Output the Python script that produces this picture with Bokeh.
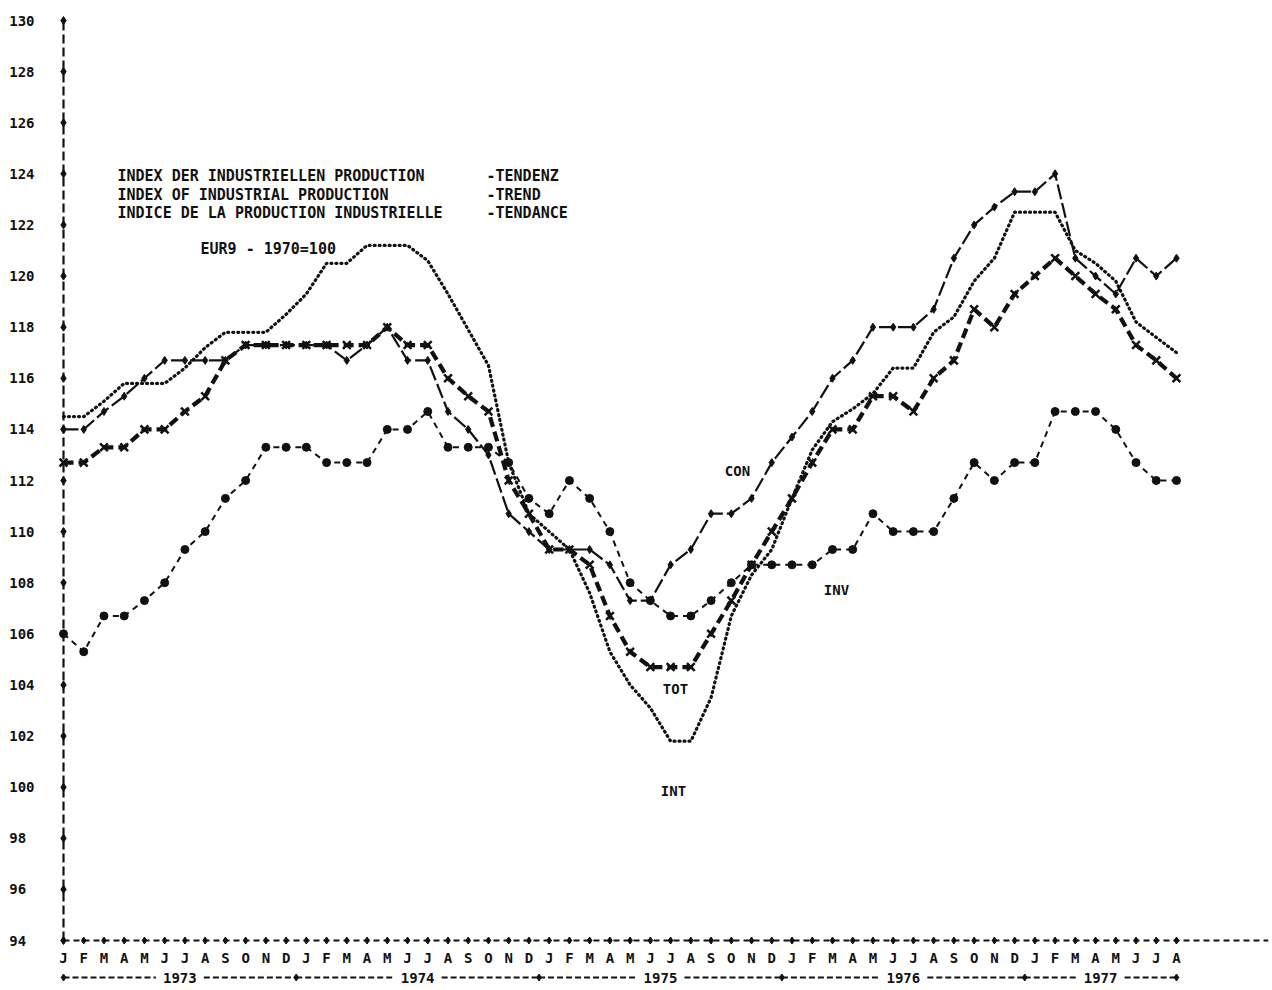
from bokeh.plotting import figure
from bokeh.models import FixedTicker, Range1d
from bokeh.core.properties import value
from bokeh.embed import file_html
from bokeh.resources import INLINE

# ---------------- data ----------------
months = ["J", "F", "M", "A", "M", "J", "J", "A", "S", "O", "N", "D"] * 4 + \
         ["J", "F", "M", "A", "M", "J", "J", "A"]
years = ["1973", "1974", "1975", "1976", "1977"]
y_ticks = list(range(94, 131, 2))

tot = [112.7, 112.7, 113.3, 113.3, 114.0, 114.0, 114.7, 115.3, 116.7, 117.3, 117.3, 117.3,
       117.3, 117.3, 117.3, 117.3, 118.0, 117.3, 117.3, 116.0, 115.3, 114.7, 112.0, 110.7,
       109.3, 109.3, 108.7, 106.7, 105.3, 104.7, 104.7, 104.7, 106.0, 107.3, 108.7, 110.0,
       111.3, 112.7, 114.0, 114.0, 115.3, 115.3, 114.7, 116.0, 116.7, 118.7, 118.0, 119.3,
       120.0, 120.7, 120.0, 119.3, 118.7, 117.3, 116.7, 116.0]

con = [114.0, 114.0, 114.7, 115.3, 116.0, 116.7, 116.7, 116.7, 116.7, 117.3, 117.3, 117.3,
       117.3, 117.3, 116.7, 117.3, 118.0, 116.7, 116.7, 114.7, 114.0, 113.0, 110.7, 110.0,
       109.3, 109.3, 109.3, 108.7, 107.3, 107.3, 108.7, 109.3, 110.7, 110.7, 111.3, 112.7,
       113.7, 114.7, 116.0, 116.7, 118.0, 118.0, 118.0, 118.7, 120.7, 122.0, 122.7, 123.3,
       123.3, 124.0, 120.7, 120.0, 119.3, 120.7, 120.0, 120.7]

int_ = [114.5, 114.5, 115.1, 115.8, 115.8, 115.8, 116.4, 117.2, 117.8, 117.8, 117.8, 118.5,
        119.3, 120.5, 120.5, 121.2, 121.2, 121.2, 120.6, 119.3, 117.9, 116.5, 112.7, 110.7,
        110.0, 109.3, 107.6, 105.3, 104.0, 103.1, 101.8, 101.8, 103.5, 106.7, 108.3, 109.3,
        111.3, 113.2, 114.3, 114.8, 115.4, 116.4, 116.4, 117.8, 118.4, 119.8, 120.7, 122.5,
        122.5, 122.5, 121.0, 120.5, 119.8, 118.2, 117.6, 117.0]

inv = [106.0, 105.3, 106.7, 106.7, 107.3, 108.0, 109.3, 110.0, 111.3, 112.0, 113.3, 113.3,
       113.3, 112.7, 112.7, 112.7, 114.0, 114.0, 114.7, 113.3, 113.3, 113.3, 112.7, 111.3,
       110.7, 112.0, 111.3, 110.0, 108.0, 107.3, 106.7, 106.7, 107.3, 108.0, 108.7, 108.7,
       108.7, 108.7, 109.3, 109.3, 110.7, 110.0, 110.0, 110.0, 111.3, 112.7, 112.0, 112.7,
       112.7, 114.7, 114.7, 114.7, 114.0, 112.7, 112.0, 112.0]

idx = list(range(len(months)))

# ---------------- layout (pixels) ----------------
W, H = 1270, 988
BL, BR, BT, BB = 52, 2, 10, 3
PPU = 920 / 36.0          # px per index unit
PPM = 1113 / 55.0         # px per month
X_ORIGIN, Y_BASE, Y_TOP = 63, 940, 20   # pixel targets for Jan-73, 94 and 130
frame_w = W - BL - BR
frame_h = H - BT - BB
X0 = -(X_ORIGIN - BL) / PPM
X1 = X0 + frame_w / PPM
Y1 = 130 + (Y_TOP - BT) / PPU
Y0 = Y1 - frame_h / PPU


def mx(px):
    return (px - X_ORIGIN) / PPM


def vy(py):
    return 94 + (Y_BASE - py) / PPU


INK = "#111111"
FONT = value("DejaVu Sans Mono")

p = figure(width=W, height=H, output_backend="svg", toolbar_location=None,
           x_range=Range1d(X0, X1), y_range=Range1d(Y0, Y1),
           x_axis_location=None, y_axis_location="left",
           min_border_left=BL, min_border_right=BR, min_border_top=BT, min_border_bottom=BB)
p.outline_line_color = None
p.grid.visible = False
p.background_fill_color = "white"
p.border_fill_color = "white"

yax = p.yaxis[0]
yax.ticker = FixedTicker(ticks=y_ticks)
yax.major_label_overrides = {t: str(t) + "\u00a0" * (3 - len(str(t))) for t in y_ticks}
yax.axis_line_color = None
yax.major_tick_line_color = None
yax.minor_tick_line_color = None
yax.major_tick_out = 0
yax.major_tick_in = 0
yax.major_label_standoff = 18
yax.major_label_text_font = "DejaVu Sans Mono"
yax.major_label_text_font_style = "bold"
yax.major_label_text_font_size = "14px"
yax.major_label_text_color = INK

# ---- hand-drawn line-printer axes ----
ymin, ymax = min(y_ticks), max(y_ticks)
p.line(x=[0, 0], y=[ymin, ymax], line_color=INK, line_width=2.2, line_dash="9 4")
p.scatter(x=[0] * len(y_ticks), y=y_ticks, marker="diamond", size=8, color=INK)
p.line(x=[0, X1], y=[ymin, ymin], line_color=INK, line_width=2, line_dash="6 4")
p.scatter(x=idx, y=[ymin] * len(idx), marker="diamond", size=7, color=INK)
p.text(x=idx, y=[ymin] * len(idx), text=months, y_offset=17, text_align="center",
       text_baseline="middle", text_font=FONT, text_font_style="bold",
       text_font_size="14px", text_color=INK)

# year row
bounds = [0] + [12 * (i + 1) - 0.5 for i in range(len(years) - 1)] + [idx[-1]]
centers = [(bounds[i] + bounds[i + 1]) / 2 for i in range(len(years))]
half = 24 / PPM
year_y = ymin - 37 / PPU
seg_x0, seg_x1 = [], []
for i in range(len(years)):
    seg_x0 += [bounds[i], centers[i] + half]
    seg_x1 += [centers[i] - half, bounds[i + 1]]
p.segment(x0=seg_x0, y0=[year_y] * len(seg_x0), x1=seg_x1, y1=[year_y] * len(seg_x1),
          line_color=INK, line_width=2, line_dash="6 3")
p.scatter(x=bounds, y=[year_y] * len(bounds), marker="diamond", size=7, color=INK)
p.text(x=centers, y=[year_y] * len(centers), text=years, text_align="center",
       text_baseline="middle", text_font=FONT, text_font_style="bold",
       text_font_size="14px", text_color=INK)

# ---- series ----
p.line(idx, int_, line_color=INK, line_width=3.2, line_dash="1 4", line_cap="round")
p.line(idx, inv, line_color=INK, line_width=2, line_dash="6 5")
p.scatter(idx, inv, marker="circle", size=8, color=INK)
p.line(idx, con, line_color=INK, line_width=2.2, line_dash="15 4")
p.scatter(idx, con, marker="diamond", size=8, color=INK)
p.line(idx, tot, line_color=INK, line_width=4.2, line_dash="10 5")
p.scatter(idx, tot, marker="x", size=11, line_width=2.5, color=INK)


# ---- annotations ----
def label(x, y, t, align="left", size="14px"):
    p.text(x=[x], y=[y], text=[t], text_align=align, text_baseline="middle",
           text_font=FONT, text_font_style="bold", text_font_size=size, text_color=INK)


title_left = ["INDEX DER INDUSTRIELLEN PRODUCTION",
              "INDEX OF INDUSTRIAL PRODUCTION",
              "INDICE DE LA PRODUCTION INDUSTRIELLE"]
title_right = ["-TENDENZ", "-TREND", "-TENDANCE"]
for t, y in zip(title_left, [175, 194, 212]):
    label(mx(117), vy(y), t, size="15px")
for t, y in zip(title_right, [175, 194, 212]):
    label(mx(486), vy(y), t, size="15px")
label(mx(200), vy(248), "EUR9 - 1970=100", size="15px")
label(mx(737), vy(470), "CON", align="center")
label(mx(836), vy(589), "INV", align="center")
label(mx(675), vy(688), "TOT", align="center")
label(mx(673), vy(790), "INT", align="center")

open("out.html", "w").write(file_html(p, INLINE))
